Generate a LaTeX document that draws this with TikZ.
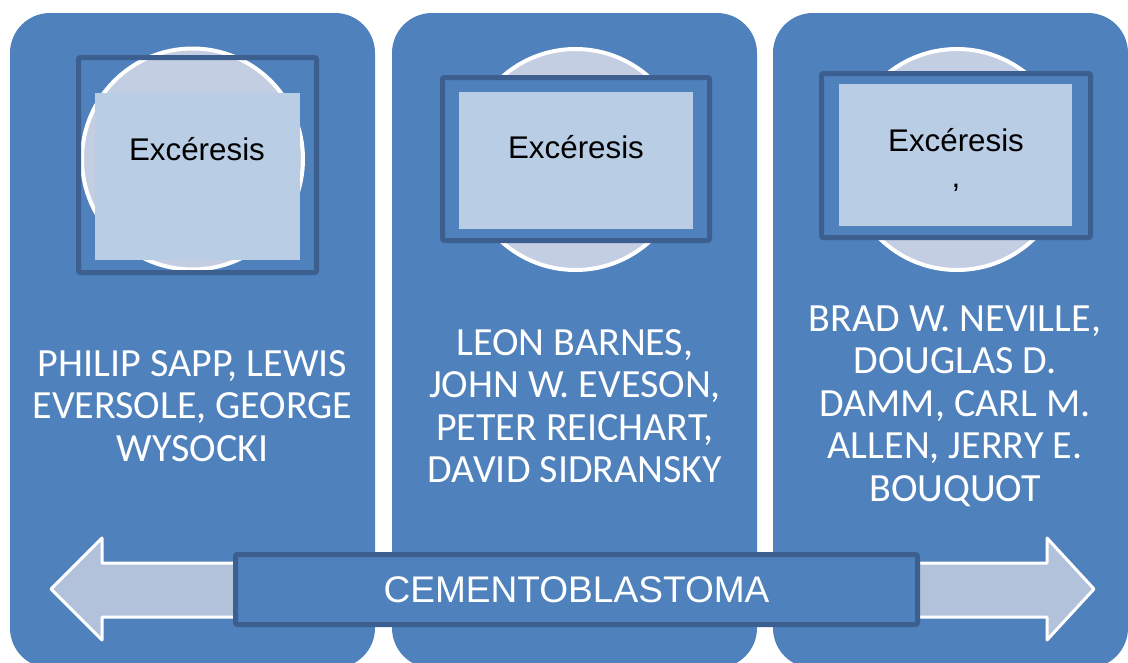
\documentclass[tikz,border=0pt]{standalone}
\usepackage{fontspec}
\setmainfont{Liberation Sans}
\newfontfamily\namesfont{Carlito}
\definecolor{panelblue}{HTML}{4F81BD}
\definecolor{edgeblue}{HTML}{3C5F8F}
\definecolor{cardblue}{HTML}{B9CDE5}
\definecolor{discblue}{HTML}{C4CEE2}
\definecolor{arrowblue}{HTML}{B3C2DB}

\begin{document}
\begin{tikzpicture}[x=0.75pt,y=-0.75pt,
  panel/.style={fill=panelblue,rounded corners=30pt},
  disc/.style={fill=discblue,draw=white,line width=3pt},
  frame/.style={draw=edgeblue,line width=3.75pt,rounded corners=1.5pt},
  card/.style={fill=cardblue},
  title/.style={font=\fontsize{23.5}{26.5}\selectfont,text=black,anchor=base,inner sep=0pt},
  names/.style={font=\namesfont\fontsize{30}{31.9}\selectfont,text=white,align=center},
  band/.style={fill=panelblue,draw=edgeblue,line width=3.75pt,rounded corners=1.5pt,
    minimum width=511.5pt,minimum height=52.5pt,text=white,
    font=\fontsize{27.8}{32}\selectfont}]
  \useasboundingbox (0,0) rectangle (1128,662);

  % Three background panels.
  \fill[panel] (10,13) rectangle (375,668);
  \fill[panel] (392,13) rectangle (757,668);
  \fill[panel] (773,13) rectangle (1128,668);

  % Left panel: circle, open frame and card.
  \draw[disc] (192.5,159) circle[radius=110.5];
  \draw[frame] (78.5,57.5) rectangle (316.5,272.5);
  \fill[card] (95,93) rectangle (300,260);
  \node[title] (t1) at (197,160) {Excéresis};
  \node[names] (n1) at (192.5,406) {PHILIP SAPP, LEWIS\\EVERSOLE, GEORGE\\WYSOCKI};

  % Middle panel.
  \draw[disc] (575.5,159.5) circle[radius=110.5];
  \draw[frame,fill=panelblue] (442.5,77.5) rectangle (709.5,240.5);
  \fill[card] (459,92) rectangle (693,229);
  \node[title] (t2) at (576,158) {Excéresis};
  \node[names] (n2) at (575,406) {LEON BARNES,\\JOHN W. EVESON,\\PETER REICHART,\\DAVID SIDRANSKY};

  % Right panel.
  \draw[disc] (957,159.5) circle[radius=110.5];
  \draw[frame,fill=panelblue] (821.5,73.5) rectangle (1090.5,237.5);
  \fill[card] (839,84) rectangle (1072,226);
  \node[title,align=center] (t3) at (956,187) {Excéresis\\,};
  \node[names] (n3) at (955,406) {BRAD W. NEVILLE,\\DOUGLAS D.\\DAMM, CARL M.\\ALLEN, JERRY E.\\BOUQUOT};

  % Double arrow behind the label band.
  \draw[draw=white,fill=arrowblue,line width=2.25pt,line join=round]
    (51,589) -- (102,538) -- (102,563) -- (1047,563) -- (1047,538) -- (1094,589)
    -- (1047,640) -- (1047,617) -- (102,617) -- (102,640) -- cycle;
  \node[band] (band) at (576.5,589.5) {CEMENTOBLASTOMA};
\end{tikzpicture}
\end{document}
